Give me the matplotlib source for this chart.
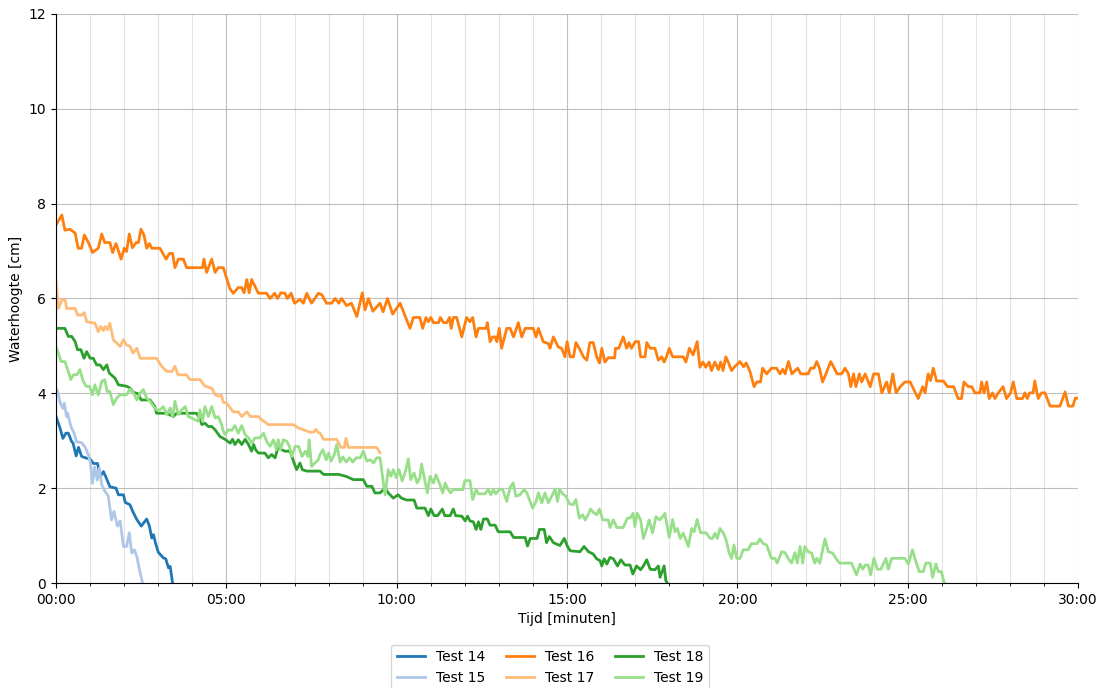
import matplotlib
matplotlib.use("Agg")
import matplotlib.pyplot as plt
from matplotlib.ticker import MultipleLocator, FuncFormatter

# metingen: tijd in minuten, waterhoogte in cm
t14 = [0, 0.12, 0.2, 0.29, 0.36, 0.46, 0.5, 0.59, 0.66, 0.75, 0.9, 0.98, 1.1, 1.22, 1.29, 1.39,
       1.46, 1.58, 1.76, 1.83, 1.98, 2.03, 2.17, 2.25, 2.37, 2.5, 2.66, 2.74, 2.81, 2.86, 2.92,
       3.0, 3.15, 3.22, 3.3, 3.35, 3.42]
h14 = [3.51, 3.26, 3.05, 3.16, 3.16, 2.98, 2.95, 2.68, 2.86, 2.67, 2.63, 2.63, 2.52, 2.52, 2.24, 2.35,
       2.24, 2.03, 2.0, 1.86, 1.86, 1.70, 1.65, 1.51, 1.34, 1.20, 1.35, 1.20, 0.95, 1.02, 0.84,
       0.65, 0.53, 0.51, 0.32, 0.35, 0.0]

t15 = [0, 0.05, 0.12, 0.2, 0.24, 0.31, 0.34, 0.41, 0.46, 0.53, 0.6, 0.75, 0.85, 0.95, 1.01,
       1.07, 1.13, 1.21, 1.27, 1.34, 1.44, 1.53, 1.63, 1.7, 1.8, 1.88, 1.98, 2.07, 2.15, 2.22,
       2.3, 2.37, 2.45, 2.54]
h15 = [4.10, 4.03, 3.80, 3.68, 3.79, 3.51, 3.58, 3.37, 3.26, 3.16, 2.98, 2.96, 2.87, 2.70, 2.52,
       2.10, 2.45, 2.17, 2.42, 2.07, 1.93, 1.84, 1.33, 1.51, 1.20, 1.31, 0.77, 0.77, 1.06, 0.63,
       0.70, 0.56, 0.28, 0.0]

t16 = [0, 0.17, 0.26, 0.41, 0.56, 0.65, 0.75, 0.83, 0.95, 1.07, 1.24, 1.34, 1.43, 1.58, 1.66,
       1.76, 1.91, 2.0, 2.07, 2.15, 2.24, 2.35, 2.42, 2.49, 2.58, 2.66, 2.74, 2.81, 3.05, 3.23,
       3.33, 3.42, 3.49, 3.59, 3.74, 3.83, 4.30, 4.34, 4.42, 4.57, 4.67, 4.76, 4.91, 5.1, 5.2,
       5.35, 5.45, 5.52, 5.6, 5.67, 5.74, 5.94, 6.18, 6.28, 6.42, 6.5, 6.6, 6.72, 6.79, 6.9,
       7.0, 7.16, 7.26, 7.36, 7.5, 7.7, 7.8, 7.94, 8.09, 8.19, 8.3, 8.38, 8.53, 8.67, 8.83,
       8.99, 9.07, 9.17, 9.3, 9.51, 9.6, 9.73, 9.88, 10.1, 10.39, 10.49, 10.68, 10.76, 10.86,
       10.93, 11.0, 11.08, 11.23, 11.28, 11.38, 11.47, 11.55, 11.6, 11.66, 11.76, 11.91,
       12.05, 12.15, 12.23, 12.33, 12.4, 12.62, 12.66, 12.74, 12.82, 12.89, 12.94, 13.01,
       13.08, 13.23, 13.33, 13.43, 13.57, 13.67, 13.77, 14.01, 14.09, 14.16, 14.3, 14.45,
       14.5, 14.6, 14.74, 14.84, 14.94, 15.0, 15.09, 15.19, 15.26, 15.38, 15.48, 15.58, 15.67,
       15.77, 15.87, 15.95, 16.02, 16.11, 16.21, 16.4, 16.42, 16.52, 16.65, 16.75, 16.82,
       16.89, 17.0, 17.1, 17.16, 17.29, 17.34, 17.44, 17.58, 17.68, 17.78, 17.85, 17.92,
       18.0, 18.1, 18.41, 18.49, 18.59, 18.7, 18.82, 18.9, 18.99, 19.07, 19.17, 19.24, 19.34,
       19.44, 19.51, 19.58, 19.66, 19.73, 19.83, 19.93, 20.08, 20.18, 20.26, 20.37, 20.49,
       20.57, 20.68, 20.74, 20.86, 21.0, 21.15, 21.25, 21.33, 21.4, 21.5, 21.6, 21.77, 21.86,
       22.08, 22.15, 22.25, 22.33, 22.41, 22.5, 22.6, 22.74, 22.93, 23.06, 23.16, 23.26,
       23.33, 23.41, 23.48, 23.58, 23.65, 23.75, 23.9, 24.0, 24.14, 24.24, 24.38, 24.46,
       24.56, 24.66, 24.78, 24.92, 25.07, 25.31, 25.44, 25.51, 25.6, 25.67, 25.75, 25.85,
       26.05, 26.17, 26.35, 26.48, 26.58, 26.65, 26.78, 26.88, 26.97, 27.12, 27.17, 27.24,
       27.32, 27.39, 27.49, 27.56, 27.66, 27.8, 27.9, 28.02, 28.1, 28.2, 28.37, 28.44, 28.51,
       28.58, 28.68, 28.73, 28.83, 28.93, 29.03, 29.18, 29.47, 29.62, 29.72, 29.85, 29.92,
       29.98]
h16 = [7.55, 7.76, 7.44, 7.46, 7.38, 7.06, 7.06, 7.34, 7.18, 6.97, 7.06, 7.36, 7.18, 7.18, 6.97,
       7.16, 6.83, 7.06, 6.99, 7.36, 7.07, 7.18, 7.18, 7.46, 7.34, 7.06, 7.16, 7.06, 7.06, 6.83,
       6.95, 6.95, 6.65, 6.83, 6.83, 6.65, 6.65, 6.83, 6.55, 6.83, 6.55, 6.65, 6.65, 6.21, 6.11,
       6.23, 6.23, 6.12, 6.40, 6.12, 6.40, 6.11, 6.11, 6.0, 6.11, 6.0, 6.12, 6.11, 6.0, 6.11,
       5.90, 5.98, 5.90, 6.11, 5.90, 6.11, 6.08, 5.90, 5.90, 6.0, 5.90, 6.0, 5.85, 5.90, 5.62,
       6.12, 5.76, 6.0, 5.73, 5.90, 5.72, 6.0, 5.67, 5.90, 5.37, 5.60, 5.60, 5.37, 5.60,
       5.51, 5.60, 5.49, 5.49, 5.60, 5.49, 5.49, 5.60, 5.37, 5.60, 5.60, 5.19,
       5.60, 5.51, 5.60, 5.19, 5.37, 5.37, 5.49, 5.09, 5.19, 5.19, 5.09, 5.37,
       4.95, 5.37, 5.37, 5.19, 5.49, 5.19, 5.37, 5.37, 5.19, 5.37, 5.09, 5.05,
       4.95, 5.19, 4.98, 4.95, 4.77, 5.09, 4.77, 4.77, 5.07, 4.92, 4.77, 4.70, 5.07,
       5.07, 4.77, 4.64, 4.95, 4.66, 4.75, 4.75, 4.95, 4.95, 5.19, 4.95, 5.07,
       4.95, 5.09, 5.09, 4.77, 4.77, 5.07, 4.95, 4.95, 4.70, 4.77, 4.66, 4.77,
       4.95, 4.77, 4.77, 4.66, 4.95, 4.81, 5.09, 4.55, 4.66, 4.55, 4.66, 4.48, 4.66,
       4.50, 4.66, 4.48, 4.77, 4.66, 4.48, 4.57, 4.67, 4.56, 4.64, 4.46, 4.14,
       4.24, 4.24, 4.53, 4.41, 4.53, 4.53, 4.41, 4.51, 4.41, 4.67, 4.41, 4.53, 4.41,
       4.41, 4.53, 4.53, 4.67, 4.53, 4.24, 4.41, 4.67, 4.41, 4.41, 4.53, 4.41,
       4.14, 4.41, 4.14, 4.41, 4.24, 4.41, 4.14, 4.41, 4.41, 4.01, 4.24, 4.01,
       4.41, 4.01, 4.14, 4.24, 4.24, 3.89, 4.14, 4.01, 4.41, 4.27, 4.53, 4.26,
       4.26, 4.14, 4.14, 3.89, 3.89, 4.24, 4.14, 4.14, 4.01, 4.01, 4.24, 4.01,
       4.24, 3.89, 4.01, 3.89, 4.01, 4.14, 3.89, 4.01, 4.24, 3.89, 3.89, 4.01, 3.89,
       4.01, 4.01, 4.26, 3.89, 4.01, 4.01, 3.73, 3.73, 4.03, 3.73, 3.73, 3.90,
       3.90]

t17 = [0, 0.07, 0.17, 0.27, 0.31, 0.56, 0.63, 0.76, 0.83, 0.9, 1.14, 1.24, 1.31, 1.39, 1.44,
       1.51, 1.58, 1.68, 1.78, 1.88, 1.98, 2.07, 2.17, 2.26, 2.37, 2.47, 2.95, 3.1, 3.25, 3.4,
       3.49, 3.58, 3.83, 3.93, 4.23, 4.37, 4.57, 4.67, 4.77, 4.85, 4.91, 5.0, 5.2, 5.35, 5.45,
       5.6, 5.7, 5.94, 6.04, 6.23, 6.97, 7.11, 7.46, 7.56, 7.63, 7.7, 7.75, 7.85, 8.24, 8.36,
       8.46, 8.51, 8.58, 8.73, 9.41, 9.51]
h17 = [6.35, 5.79, 5.97, 5.97, 5.79, 5.79, 5.65, 5.65, 5.70, 5.51, 5.48, 5.30, 5.41, 5.32, 5.41,
       5.34, 5.48, 5.13, 5.06, 4.99, 5.13, 5.02, 4.99, 4.85, 4.95, 4.74, 4.74, 4.57, 4.46, 4.46,
       4.57, 4.39, 4.39, 4.29, 4.29, 4.15, 4.11, 3.97, 3.94, 3.96, 3.81, 3.80, 3.61, 3.61, 3.51,
       3.61, 3.51, 3.51, 3.44, 3.34, 3.34, 3.27, 3.18, 3.18, 3.24, 3.17, 3.16, 3.03, 3.03, 2.86,
       2.86, 3.05, 2.86, 2.86, 2.86, 2.75]

t18 = [0, 0.26, 0.36, 0.46, 0.56, 0.63, 0.73, 0.82, 0.9, 1.0, 1.09, 1.19, 1.29, 1.39, 1.49,
       1.56, 1.73, 1.83, 2.07, 2.17, 2.27, 2.41, 2.5, 2.66, 2.76, 2.9, 2.95, 3.25, 3.44, 3.54,
       3.88, 4.03, 4.12, 4.22, 4.28, 4.37, 4.47, 4.57, 4.67, 4.81, 4.96, 5.11, 5.18, 5.25, 5.35,
       5.45, 5.55, 5.65, 5.74, 5.8, 5.86, 5.94, 6.13, 6.23, 6.33, 6.43, 6.53, 6.62, 6.72, 6.87,
       6.97, 7.06, 7.16, 7.23, 7.36, 7.75, 7.85, 8.29, 8.51, 8.73, 9.02, 9.12, 9.27, 9.36,
       9.51, 9.66, 9.75, 9.9, 10.04, 10.14, 10.29, 10.39, 10.51, 10.59, 10.83, 10.93, 11.0,
       11.1, 11.2, 11.34, 11.41, 11.57, 11.66, 11.73, 11.91, 12.01, 12.08, 12.15, 12.25,
       12.33, 12.4, 12.47, 12.55, 12.66, 12.74, 12.89, 12.98, 13.33, 13.43, 13.77, 13.84,
       13.92, 14.12, 14.19, 14.33, 14.4, 14.48, 14.6, 14.79, 14.92, 15.0, 15.09, 15.38,
       15.5, 15.63, 15.77, 15.87, 15.97, 16.02, 16.09, 16.17, 16.26, 16.36, 16.48, 16.58,
       16.7, 16.85, 16.93, 17.04, 17.16, 17.24, 17.34, 17.44, 17.58, 17.68, 17.73, 17.8,
       17.85, 17.9, 17.94]
h18 = [5.37, 5.37, 5.20, 5.20, 5.09, 4.92, 4.92, 4.74, 4.88, 4.74, 4.74, 4.60, 4.60, 4.50, 4.60,
       4.43, 4.32, 4.18, 4.15, 4.11, 4.02, 3.99, 3.86, 3.86, 3.86, 3.72, 3.58, 3.58, 3.51, 3.58,
       3.58, 3.58, 3.58, 3.48, 3.34, 3.37, 3.30, 3.30, 3.23, 3.09, 3.03, 2.95, 3.03, 2.92, 3.02,
       2.92, 3.03, 2.92, 2.78, 2.92, 2.81, 2.74, 2.74, 2.64, 2.71, 2.64, 2.90, 2.81, 2.78, 2.78,
       2.57, 2.39, 2.53, 2.39, 2.36, 2.36, 2.29, 2.29, 2.25, 2.18, 2.18, 2.04, 2.04, 1.90,
       1.90, 2.0, 1.90, 1.79, 1.86, 1.79, 1.75, 1.75, 1.75, 1.58, 1.58, 1.42, 1.56,
       1.42, 1.42, 1.56, 1.42, 1.42, 1.56, 1.42, 1.41, 1.31, 1.41, 1.31, 1.29,
       1.13, 1.29, 1.13, 1.35, 1.35, 1.22, 1.22, 1.08, 1.08, 0.96, 0.96, 0.78,
       0.94, 0.94, 1.13, 1.13, 0.85, 0.98, 0.85, 0.79, 0.94, 0.79, 0.68, 0.66,
       0.77, 0.66, 0.61, 0.51, 0.47, 0.36, 0.51, 0.40, 0.54, 0.51, 0.36, 0.49,
       0.38, 0.38, 0.19, 0.36, 0.28, 0.36, 0.49, 0.29, 0.28, 0.36, 0.12, 0.26,
       0.36, 0.05, 0.0]

t19 = [0, 0.15, 0.26, 0.36, 0.43, 0.51, 0.61, 0.7, 0.78, 0.88,
       0.98, 1.07, 1.14, 1.24, 1.34, 1.43, 1.5, 1.58, 1.68, 1.78,
       1.88, 2.07, 2.17, 2.27, 2.37, 2.47, 2.56, 2.66, 2.76, 2.86,
       2.95, 3.05, 3.15, 3.25, 3.35, 3.42, 3.49, 3.59, 3.69, 3.79,
       3.88, 3.98, 4.17, 4.22, 4.3, 4.37, 4.47, 4.57, 4.67, 4.76,
       4.86, 4.9, 4.96, 5.06, 5.16, 5.25, 5.35, 5.45, 5.55, 5.65,
       5.74, 5.84, 5.99, 6.09, 6.18, 6.28, 6.38, 6.47, 6.52, 6.59,
       6.67, 6.77, 6.85, 6.92, 7.02, 7.12, 7.22, 7.32, 7.39, 7.43,
       7.5, 7.6, 7.7, 7.75, 7.83, 7.93, 8.0, 8.07, 8.17, 8.24,
       8.34, 8.42, 8.52, 8.61, 8.71, 8.81, 8.93, 9.02, 9.12, 9.22,
       9.32, 9.41, 9.51, 9.61, 9.66, 9.75, 9.83, 9.9, 9.99, 10.07,
       10.16, 10.26, 10.34, 10.41, 10.51, 10.6, 10.68, 10.73, 10.8, 10.9,
       10.98, 11.08, 11.15, 11.25, 11.35, 11.42, 11.49, 11.58, 11.66, 11.94,
       12.0, 12.15, 12.23, 12.33, 12.4, 12.59, 12.69, 12.76, 12.84, 12.91,
       13.01, 13.11, 13.23, 13.33, 13.42, 13.5, 13.62, 13.74, 13.82, 13.99,
       14.09, 14.16, 14.26, 14.35, 14.45, 14.55, 14.65, 14.72, 14.78, 14.87,
       14.97, 15.07, 15.18, 15.26, 15.36, 15.46, 15.53, 15.62, 15.69, 15.77,
       15.87, 15.95, 16.05, 16.21, 16.26, 16.36, 16.46, 16.65, 16.77, 16.85,
       16.94, 16.99, 17.06, 17.16, 17.24, 17.34, 17.41, 17.51, 17.61, 17.71,
       17.81, 17.87, 18.0, 18.1, 18.17, 18.24, 18.32, 18.41, 18.49, 18.56,
       18.66, 18.73, 18.82, 18.92, 19.08, 19.2, 19.27, 19.34, 19.41, 19.49,
       19.59, 19.67, 19.76, 19.83, 19.9, 19.98, 20.08, 20.17, 20.32, 20.41,
       20.58, 20.66, 20.76, 20.86, 21.0, 21.1, 21.17, 21.3, 21.4, 21.49,
       21.59, 21.69, 21.76, 21.84, 21.92, 21.98, 22.08, 22.18, 22.27, 22.33,
       22.42, 22.57, 22.67, 22.8, 22.89, 23.0, 23.35, 23.5, 23.6, 23.68,
       23.75, 23.84, 23.91, 24.01, 24.11, 24.21, 24.36, 24.43, 24.53, 24.92,
       25.02, 25.14, 25.21, 25.34, 25.46, 25.53, 25.66, 25.73, 25.83, 25.9,
       25.99, 26.06, 26.09]
h19 = [4.98, 4.67, 4.67, 4.46, 4.29, 4.39, 4.39, 4.50, 4.29, 4.15,
       4.15, 3.97, 4.18, 3.97, 4.25, 4.29, 4.04, 4.04, 3.76, 3.90,
       3.97, 3.97, 4.09, 4.01, 3.86, 4.01, 4.08, 3.90, 3.83, 3.72,
       3.65, 3.65, 3.72, 3.55, 3.69, 3.51, 3.83, 3.55, 3.65, 3.72,
       3.51, 3.48, 3.41, 3.65, 3.41, 3.72, 3.51, 3.72, 3.48, 3.51,
       3.34, 3.22, 3.13, 3.23, 3.22, 3.32, 3.16, 3.32, 3.13, 3.06,
       2.95, 3.06, 3.06, 3.16, 2.99, 2.88, 3.02, 2.81, 3.02, 2.81,
       3.02, 2.99, 2.88, 2.67, 2.88, 2.88, 2.67, 2.78, 2.67, 3.02,
       2.46, 2.53, 2.60, 2.71, 2.81, 2.60, 2.74, 2.57, 2.71, 2.92,
       2.55, 2.66, 2.55, 2.64, 2.55, 2.64, 2.64, 2.78, 2.57, 2.60,
       2.53, 2.64, 2.64, 2.10, 1.86, 2.39, 2.25, 2.39, 2.22, 2.39,
       2.15, 2.36, 2.62, 2.18, 2.32, 2.11, 2.22, 2.51, 2.25, 1.90,
       2.25, 2.11, 2.28, 2.11, 1.90, 2.11, 2.0, 1.90, 1.97, 1.97,
       2.16, 2.16, 1.76, 1.97, 1.88, 1.88, 1.97, 1.86, 1.97, 1.88,
       1.98, 1.97, 1.72, 2.02, 2.11, 1.83, 1.86, 1.97, 1.90, 1.58,
       1.72, 1.90, 1.69, 1.90, 1.69, 1.83, 1.98, 1.72, 1.98, 1.88,
       1.83, 1.67, 1.65, 1.76, 1.37, 1.44, 1.33, 1.44, 1.56, 1.49,
       1.44, 1.56, 1.33, 1.33, 1.17, 1.33, 1.17, 1.17, 1.37, 1.37,
       1.47, 1.19, 1.47, 1.33, 0.94, 1.15, 1.33, 1.06, 1.40, 1.33,
       1.40, 1.47, 0.96, 1.34, 1.08, 1.15, 0.94, 1.05, 0.91, 0.77,
       1.15, 1.08, 1.34, 1.06, 1.06, 0.94, 0.94, 1.05, 0.94, 1.15,
       1.05, 0.91, 0.63, 0.52, 0.80, 0.52, 0.52, 0.70, 0.70, 0.83,
       0.83, 0.93, 0.83, 0.80, 0.52, 0.52, 0.42, 0.66, 0.64, 0.52,
       0.42, 0.64, 0.42, 0.77, 0.42, 0.77, 0.66, 0.63, 0.42, 0.52,
       0.42, 0.93, 0.66, 0.63, 0.52, 0.42, 0.42, 0.17, 0.40, 0.29,
       0.38, 0.38, 0.17, 0.52, 0.29, 0.29, 0.52, 0.29, 0.52, 0.52,
       0.40, 0.70, 0.52, 0.24, 0.24, 0.42, 0.42, 0.12, 0.40, 0.24,
       0.24, 0.03, 0.0]

labels = ["Test 14", "Test 15", "Test 16", "Test 17", "Test 18", "Test 19"]
colors = ["#1f77b4", "#aec7e8", "#ff7f0e", "#ffbb78", "#2ca02c", "#98df8a"]
series = [(t14, h14), (t15, h15), (t16, h16), (t17, h17), (t18, h18), (t19, h19)]

fig = plt.figure(figsize=(11.1, 6.88), dpi=100)
ax = fig.add_axes([0.0505, 0.1526, 0.9207, 0.8271])

for (t, h), lab, c in zip(series, labels, colors):
    ax.plot(t, h, color=c, linewidth=2, label=lab)

ax.set_xlim(0, 30)
ax.set_ylim(0, 12)
ax.xaxis.set_major_locator(MultipleLocator(5))
ax.xaxis.set_minor_locator(MultipleLocator(1))
ax.yaxis.set_major_locator(MultipleLocator(2))
ax.xaxis.set_major_formatter(FuncFormatter(lambda v, p: "%02d:00" % int(round(v))))
ax.grid(which="major", color="#b0b0b0", linewidth=0.8, alpha=0.8)
ax.grid(which="minor", axis="x", color="#d8d8d8", linewidth=0.8, alpha=0.7)
ax.set_axisbelow(True)
ax.spines["top"].set_visible(False)
ax.spines["right"].set_visible(False)
ax.set_xlabel("Tijd [minuten]")
ax.set_ylabel("Waterhoogte [cm]")

fig.legend(loc="upper center", bbox_to_anchor=(0.4955, 0.063), ncol=3,
           handlelength=2.0, columnspacing=1.5, borderaxespad=0)

fig.savefig("out.png", dpi=100)
